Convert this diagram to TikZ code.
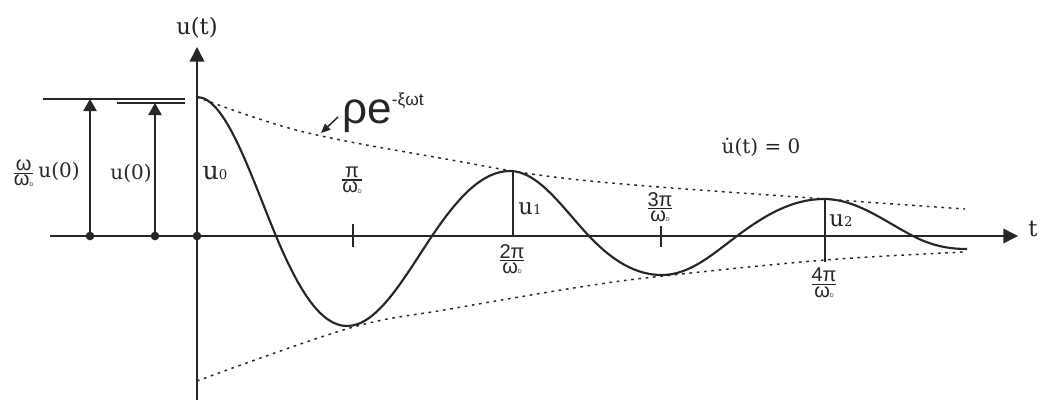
\documentclass[tikz,border=0pt]{standalone}
\usepackage{fontspec}
\usepackage{amsmath}
\setmainfont{DejaVu Serif}
\newfontfamily\sansf{Liberation Sans}
\usetikzlibrary{arrows.meta}
\definecolor{ink}{RGB}{38,38,38}
\newcommand{\myfrac}[2]{\ensuremath{\genfrac{}{}{1pt}{1}{\mbox{#1}}{\mbox{#2}}}}
\newcommand{\wD}{ω\raisebox{-0.3pt}{\fontsize{4}{4}\selectfont D}}
\begin{document}
\begin{tikzpicture}[x=0.75pt,y=-0.75pt,
  axis/.style={draw=ink, line width=1.1pt},
  curve/.style={draw=ink, line width=1.6pt},
  env/.style={draw=ink, line width=1.1pt, dash pattern=on 2pt off 3.5pt},
  dotn/.style={circle, fill=ink, inner sep=0pt, minimum size=6.5pt},
  tipa/.style={-{Triangle[length=9pt,width=10pt]}},
  tipb/.style={-{Triangle[length=11pt,width=11pt]}},
  lbl/.style={inner sep=0pt, text=ink},
  fr/.style={lbl, font=\sansf\fontsize{15}{15}\selectfont}
]
\useasboundingbox (0,0) rectangle (1042,401);

% axes
\coordinate (xstart) at (50,236);
\coordinate (xend) at (1018,236);
\coordinate (ybot) at (197,400);
\coordinate (ytop) at (197,47);
\draw[axis,tipb] (xstart) -- (xend);
\draw[axis,tipb] (ybot) -- (ytop);

% dots
\node[dotn] (d1) at (90,236) {};
\node[dotn] (d2) at (155,236) {};
\node[dotn] (d0) at (197,236) {};

% top lines and arrows
\coordinate (l1a) at (43,99);
\coordinate (l1b) at (185,99);
\coordinate (l2a) at (117,103);
\coordinate (l2b) at (185,103);
\draw[axis] (l1a) -- (l1b);
\draw[axis] (l2a) -- (l2b);
\coordinate (a1) at (90,99);
\coordinate (a2) at (155,103);
\draw[axis,tipa] (d1.center) -- (a1);
\draw[axis,tipa] (d2.center) -- (a2);

% envelopes
\draw[env] plot[smooth, tension=0.6] coordinates {(197,97) (300,131) (440,158) (580,180) (825,199) (965,209)};
\draw[env] plot[smooth, tension=0.6] coordinates {(197,381) (350,328) (450,309) (580,287) (663,276) (825,260) (965,252)};

% response curve
\draw[curve] (197,97)
  .. controls (225.6,97) and (250.3,174.3) .. (276,236)
  .. controls (299.1,291.4) and (321.3,326) .. (347,326)
  .. controls (377.8,326) and (404.4,277) .. (432,236)
  .. controls (457.4,198.3) and (481.8,171) .. (510,171)
  .. controls (538.6,171) and (563.3,208.8) .. (589,236)
  .. controls (613.1,261.5) and (636.2,275) .. (662,275)
  .. controls (689.8,275) and (712.9,254) .. (737,236)
  .. controls (765.3,214.8) and (792.5,199) .. (824,199)
  .. controls (856.2,199) and (884.1,221) .. (913,236)
  .. controls (930.6,245.2) and (947.5,249) .. (967,249);

% ticks and ordinates
\draw[axis] (353,224) -- (353,247);
\draw[axis] (661,226) -- (661,247);
\coordinate (p1) at (513,171);
\coordinate (q1) at (513,236);
\draw[axis] (p1) -- (q1);
\coordinate (p2) at (825,199);
\coordinate (q2) at (825,262);
\draw[axis] (p2) -- (q2);

% labels
\node[lbl, font=\fontsize{17}{17}\selectfont] (ut) at (197,28) {u(t)};
\node[lbl, font=\fontsize{17}{17}\selectfont] (tl) at (1033,229) {t};
\node[lbl, font=\fontsize{15}{15}\selectfont] (lab1) at (46,173) {{\sansf\myfrac{ω}{\wD}}\,u(0)};
\node[lbl, font=\fontsize{15}{15}\selectfont] (lab2) at (131,173) {u(0)};
\node[lbl, font=\fontsize{19}{19}\selectfont] (lab3) at (215,173) {u{\fontsize{10}{10}\selectfont 0}};
\node[lbl, font=\fontsize{17}{17}\selectfont] (lu1) at (530,209) {u{\fontsize{10}{10}\selectfont 1}};
\node[lbl, font=\fontsize{17}{17}\selectfont] (lu2) at (841,221) {u{\fontsize{10}{10}\selectfont 2}};
\node[lbl, font=\fontsize{15}{15}\selectfont] (ud) at (761,147) {\.u(t) = 0};

\node[lbl, anchor=base west, font=\sansf] (rho) at (342,123)
  {{\fontsize{33}{33}\selectfont ρe}\raisebox{13pt}{\fontsize{13}{13}\selectfont -ξωt}};
\coordinate (rA) at (338,117);
\coordinate (rB) at (321,133);
\draw[axis, -{Triangle[length=7pt,width=6pt]}] (rA) -- (rB);

\node[fr] (f1) at (352,180) {\myfrac{π}{\wD}};
\node[fr] (f2) at (512,259) {\myfrac{2π}{\wD}};
\node[fr] (f3) at (660,207) {\myfrac{3π}{\wD}};
\node[fr] (f4) at (824,283) {\myfrac{4π}{\wD}};
\end{tikzpicture}
\end{document}
